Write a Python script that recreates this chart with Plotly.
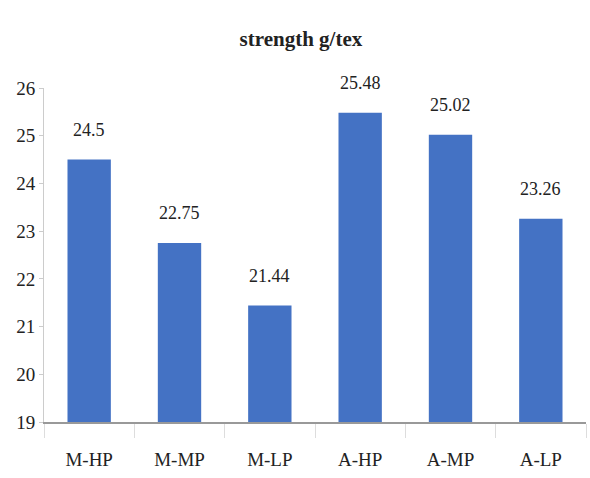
import plotly.graph_objects as go

categories = ["M-HP", "M-MP", "M-LP", "A-HP", "A-MP", "A-LP"]
values = [24.5, 22.75, 21.44, 25.48, 25.02, 23.26]
value_labels = ["24.5", "22.75", "21.44", "25.48", "25.02", "23.26"]
y_ticks = [19, 20, 21, 22, 23, 24, 25, 26]

font = "Liberation Serif, Times New Roman, serif"

fig = go.Figure(go.Bar(x=categories, y=values, marker_color="#4472C4",
                       marker_line_width=0, width=0.48))

for c, v, t in zip(categories, values, value_labels):
    fig.add_annotation(x=c, y=v, text=t, showarrow=False, yanchor="bottom",
                       yshift=18, font=dict(family=font, size=18, color="#222"))

fig.update_layout(
    width=590, height=478,
    margin=dict(l=44, r=4, t=88, b=56),
    paper_bgcolor="white", plot_bgcolor="white",
    title=dict(text="<b>strength g/tex</b>", x=0.51, xanchor="center", y=0.92, yanchor="middle",
               font=dict(family=font, size=21, color="#222")),
    showlegend=False,
)
fig.update_xaxes(showline=True, linecolor="#999", linewidth=1.5, ticks="outside",
                 tickson="boundaries", ticklen=14, tickcolor="#ddd",
                 ticklabelstandoff=19, automargin=False,
                 tickfont=dict(family=font, size=19, color="#222"), showgrid=False)
fig.update_yaxes(range=[19, 26], tickvals=y_ticks, showline=True, linecolor="#ccc",
                 linewidth=1, ticks="outside", ticklen=4, tickcolor="#ccc",
                 tickfont=dict(family=font, size=19, color="#222"), showgrid=False,
                 zeroline=False)

fig.write_html("out.html")
